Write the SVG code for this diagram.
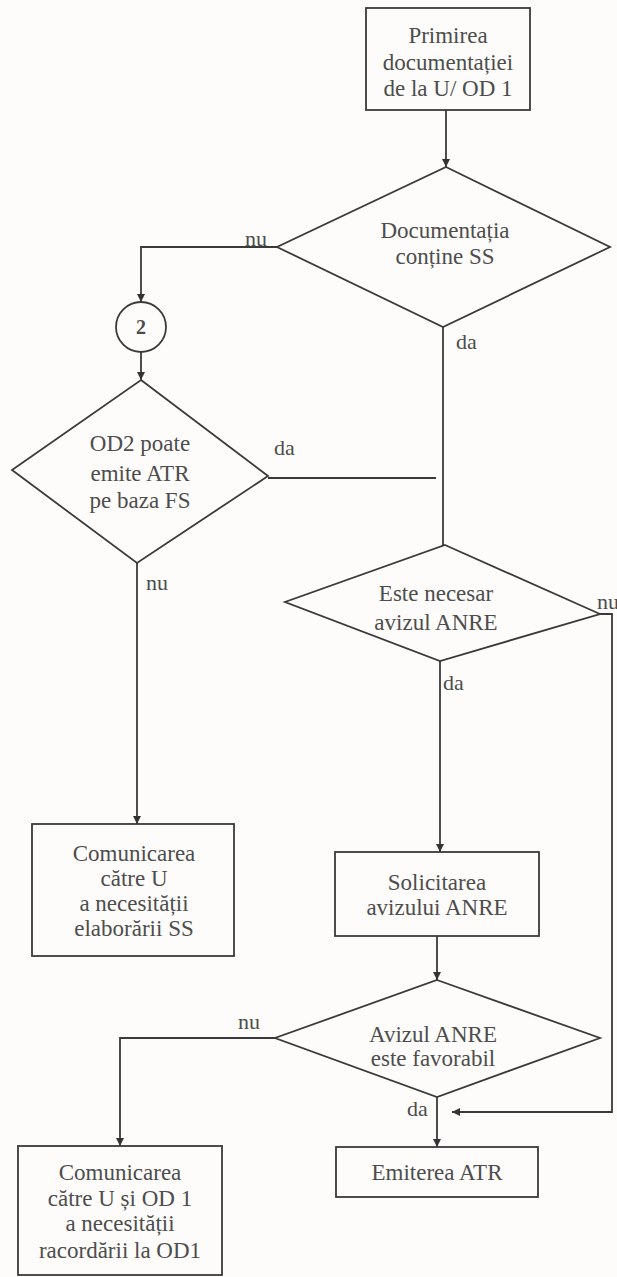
<svg xmlns="http://www.w3.org/2000/svg" width="617" height="1277" viewBox="0 0 617 1277">
<defs>
<marker id="ah" viewBox="0 0 10 10" refX="10" refY="5" markerWidth="9" markerHeight="8" markerUnits="userSpaceOnUse" orient="auto">
<path d="M0,0 L10,5 L0,10 z" fill="#333"/>
</marker>
<style>
.bg{fill:#fdfcfa}
.shape{fill:none;stroke:#3a3a3a;stroke-width:1.8}
.t{font-family:"Liberation Serif","DejaVu Serif","Noto Serif",serif;font-size:23px;fill:#4d4d4d;text-anchor:middle}
.lbl{font-family:"Liberation Serif","DejaVu Serif","Noto Serif",serif;font-size:22px;fill:#4d4d4d}
.conn{fill:none;stroke:#3a3a3a;stroke-width:1.8}
.arr{marker-end:url(#ah)}
</style>
</defs>
<rect class="bg" x="0" y="0" width="617" height="1277"/>
<g id="connectors">
<line class="conn arr" x1="446" y1="110" x2="446" y2="167"/>
<polyline class="conn arr" points="277,247 141,247 141,302"/>
<line class="conn arr" x1="141" y1="352" x2="141" y2="380"/>
<line class="conn" x1="268" y1="478" x2="436" y2="478"/>
<line class="conn" x1="443" y1="327" x2="443" y2="545"/>
<line class="conn arr" x1="137" y1="563" x2="137" y2="824"/>
<polyline class="conn arr" points="600,614 612,614 612,1112 452,1112"/>
<line class="conn arr" x1="440" y1="661" x2="440" y2="852"/>
<line class="conn arr" x1="437" y1="936" x2="437" y2="980"/>
<polyline class="conn arr" points="275,1038 120,1038 120,1146"/>
<line class="conn arr" x1="437" y1="1097" x2="437" y2="1147"/>
<text class="lbl" x="245" y="246">nu</text>
<text class="lbl" x="456" y="349">da</text>
<text class="lbl" x="274" y="455">da</text>
<text class="lbl" x="146" y="590">nu</text>
<text class="lbl" x="597" y="609">nu</text>
<text class="lbl" x="443" y="690">da</text>
<text class="lbl" x="238" y="1029">nu</text>
<text class="lbl" x="407" y="1116">da</text>
</g>
<g id="n1">
<rect class="shape" x="366" y="8" width="164" height="102"/>
<text class="t" x="448" y="43">Primirea</text>
<text class="t" x="448" y="70">documentației</text>
<text class="t" x="448" y="96">de la U/ OD 1</text>
</g>
<g id="d1">
<polygon class="shape" points="446,167 610,247 443,327 277,247"/>
<text class="t" x="445" y="238">Documentația</text>
<text class="t" x="445" y="264">conține SS</text>
</g>
<g id="c2">
<circle class="shape" cx="141" cy="327" r="25"/>
<text class="t" x="141" y="334" style="font-weight:bold;font-size:20px">2</text>
</g>
<g id="d2">
<polygon class="shape" points="141,380 268,476 137,563 12,470"/>
<text class="t" x="140" y="451">OD2 poate</text>
<text class="t" x="140" y="481">emite ATR</text>
<text class="t" x="140" y="508">pe baza FS</text>
</g>
<g id="d3">
<polygon class="shape" points="445,545 600,614 440,661 285,602"/>
<text class="t" x="436" y="601">Este necesar</text>
<text class="t" x="436" y="630">avizul ANRE</text>
</g>
<g id="b_com1">
<rect class="shape" x="32" y="824" width="202" height="132"/>
<text class="t" x="134" y="861">Comunicarea</text>
<text class="t" x="134" y="886">către U</text>
<text class="t" x="134" y="911">a necesității</text>
<text class="t" x="134" y="936">elaborării SS</text>
</g>
<g id="b_sol">
<rect class="shape" x="335" y="852" width="204" height="84"/>
<text class="t" x="437" y="890">Solicitarea</text>
<text class="t" x="437" y="915">avizului ANRE</text>
</g>
<g id="d4">
<polygon class="shape" points="437,980 600,1038 437,1097 275,1038"/>
<text class="t" x="433" y="1042">Avizul ANRE</text>
<text class="t" x="433" y="1066">este favorabil</text>
</g>
<g id="b_com2">
<rect class="shape" x="18" y="1146" width="204" height="129"/>
<text class="t" x="120" y="1180">Comunicarea</text>
<text class="t" x="120" y="1206">către U și OD 1</text>
<text class="t" x="120" y="1231">a necesității</text>
<text class="t" x="120" y="1258">racordării la OD1</text>
</g>
<g id="b_emit">
<rect class="shape" x="336" y="1147" width="202" height="50"/>
<text class="t" x="437" y="1180">Emiterea ATR</text>
</g>
</svg>
